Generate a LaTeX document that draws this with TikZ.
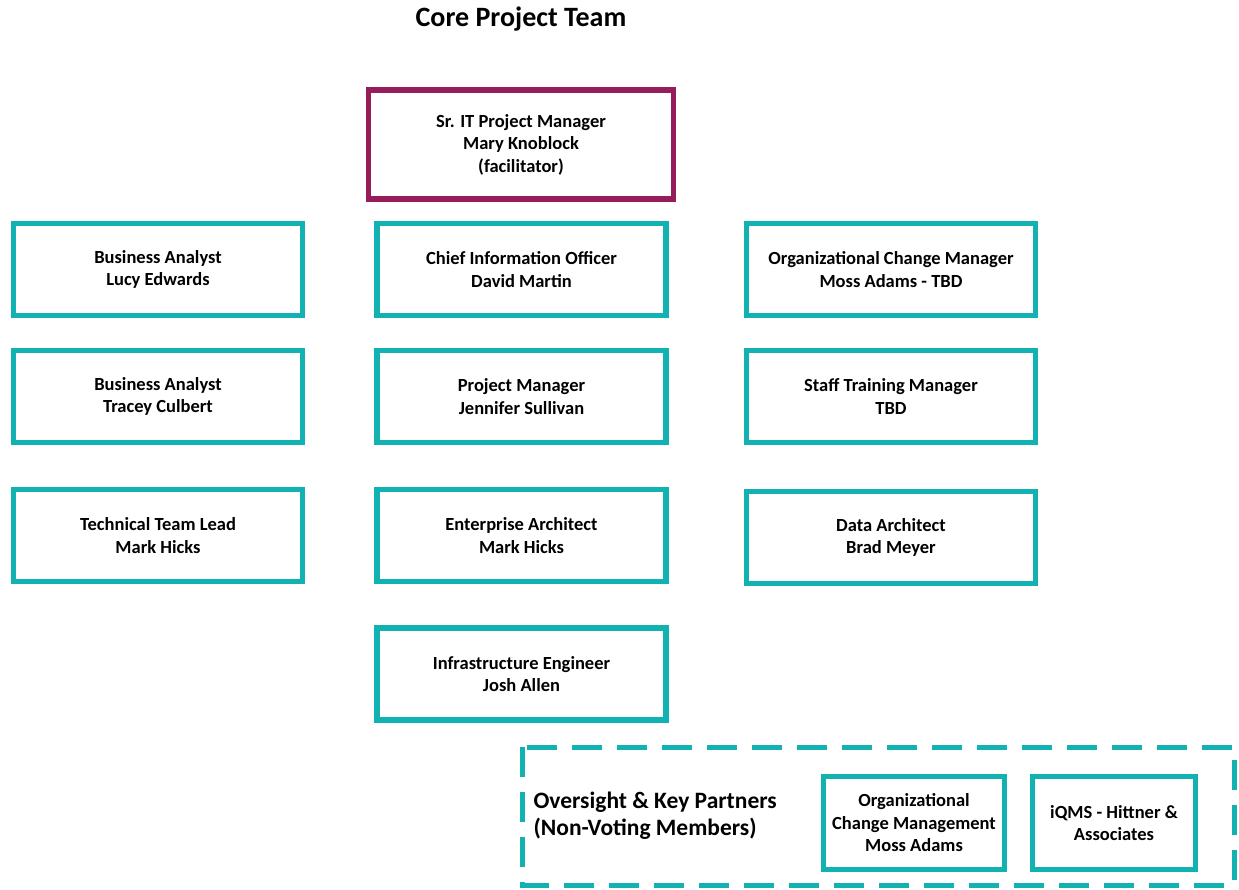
\documentclass[tikz,border=0pt]{standalone}
\usepackage{fontspec}
\setmainfont{Carlito}
\definecolor{teal1}{RGB}{18,178,178}
\definecolor{plum1}{RGB}{150,28,90}
\begin{document}
\begin{tikzpicture}[x=1pt,y=-1pt,
  base/.style={draw, line width=5.5pt, rectangle, align=center, inner sep=2pt,
    font=\fontsize{18.5}{22.5}\selectfont\bfseries},
  tbox/.style={base, draw=teal1, minimum width=289pt, minimum height=92pt},
  pbox/.style={base, draw=plum1, minimum width=305pt, minimum height=109pt},
  sbox/.style={base, draw=teal1, minimum height=93pt},
  dashbox/.style={draw=teal1, line width=5pt, dash pattern=on 30pt off 15pt}]
\useasboundingbox (0,0) rectangle (1239,890);
\node[font=\fontsize{28}{32}\selectfont\bfseries] (title) at (521,19) {Core Project Team};
\node[pbox] (pm) at (521,144.5) {Sr. IT Project Manager\\Mary Knoblock\\(facilitator)};
\node[tbox] (ba1) at (158,269.5) {Business Analyst\\Lucy Edwards};
\node[tbox] (ba2) at (158,396.5) {Business Analyst\\Tracey Culbert};
\node[tbox] (ttl) at (158,535.5) {Technical Team Lead\\Mark Hicks};
\node[tbox] (cio) at (521.5,269.5) {Chief Information Officer\\David Martin};
\node[tbox] (prm) at (521.5,396.5) {Project Manager\\Jennifer Sullivan};
\node[tbox] (ea) at (521.5,535.5) {Enterprise Architect\\Mark Hicks};
\node[tbox] (ie) at (521.5,674) {Infrastructure Engineer\\Josh Allen};
\node[tbox] (ocm) at (891,269.5) {Organizational Change Manager\\Moss Adams - TBD};
\node[tbox] (stm) at (891,396.5) {Staff Training Manager\\TBD};
\node[tbox] (da) at (891,537.5) {Data Architect\\Brad Meyer};
\draw[dashbox] (522,747) rectangle (1234,885);
\node[anchor=west, align=left, font=\fontsize{23.5}{27}\selectfont\bfseries] (ov) at (530,816) {Oversight \& Key Partners\\(Non-Voting Members)};
\node[sbox, minimum width=181pt] (ocmp) at (914,823) {Organizational\\Change Management\\Moss Adams};
\node[sbox, minimum width=163pt] (iqms) at (1114,823) {iQMS - Hittner \&\\Associates};
\end{tikzpicture}
\end{document}
